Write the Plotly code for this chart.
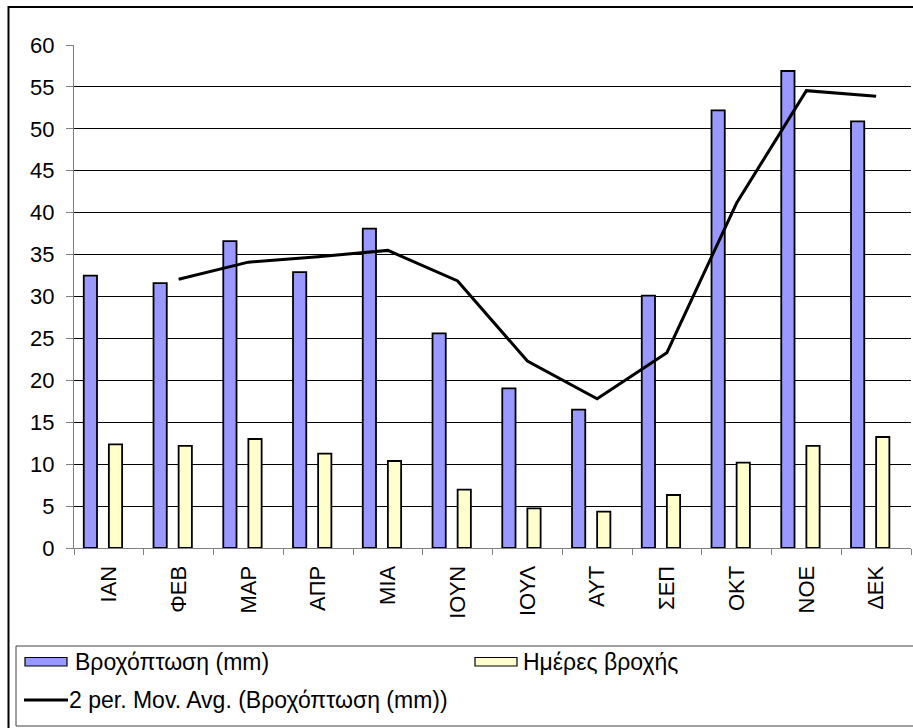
import plotly.graph_objects as go

months = ["ΙΑΝ", "ΦΕΒ", "ΜΑΡ", "ΑΠΡ", "ΜΙΑ", "ΙΟΥΝ", "ΙΟΥΛ", "ΑΥΤ", "ΣΕΠ", "ΟΚΤ", "ΝΟΕ", "ΔΕΚ"]
rain_mm = [32.5, 31.6, 36.6, 32.9, 38.1, 25.6, 19.05, 16.5, 30.1, 52.2, 56.9, 50.9]
rain_days = [12.37, 12.17, 13.0, 11.25, 10.38, 6.96, 4.73, 4.33, 6.32, 10.18, 12.17, 13.24]
mov_avg_months = months[1:]
mov_avg = [32.05, 34.1, 34.75, 35.5, 31.85, 22.3, 17.8, 23.3, 41.15, 54.55, 53.9]
y_ticks = [0, 5, 10, 15, 20, 25, 30, 35, 40, 45, 50, 55, 60]

W, H = 913, 728
L, R, T, B = 74, 2, 45, 180
PW, PH = W - L - R, H - T - B

def px(x):
    return (x - L) / PW

def py(y):
    return (H - B - y) / PH

FONT = "Liberation Sans, Arial, sans-serif"
LEG_SIZE = 23

fig = go.Figure()
fig.add_trace(go.Bar(
    x=months, y=rain_mm, name="Βροχόπτωση (mm)",
    marker=dict(color="#9999FF", line=dict(color="#000000", width=1.8)),
    offset=-0.36, width=0.19, showlegend=False,
))
fig.add_trace(go.Bar(
    x=months, y=rain_days, name="Ημέρες βροχής",
    marker=dict(color="#FFFFCC", line=dict(color="#000000", width=1.8)),
    offset=0.0, width=0.19, showlegend=False,
))
fig.add_trace(go.Scatter(
    x=mov_avg_months, y=mov_avg, mode="lines",
    name="2 per. Mov. Avg. (Βροχόπτωση (mm))",
    line=dict(color="#000000", width=3), showlegend=False,
))

shapes = []
annotations = []
# outer chart border
shapes.append(dict(type="rect", xref="paper", yref="paper",
                   x0=px(8.5), x1=px(940), y0=py(7), y1=py(760),
                   line=dict(color="#000000", width=2), fillcolor="rgba(0,0,0,0)", layer="below"))
# legend box
shapes.append(dict(type="rect", xref="paper", yref="paper",
                   x0=px(16), x1=px(940), y0=py(646), y1=py(726),
                   line=dict(color="#404040", width=1), fillcolor="rgba(0,0,0,0)"))
# legend entries
shapes.append(dict(type="rect", xref="paper", yref="paper",
                   x0=px(25), x1=px(67), y0=py(657.5), y1=py(666),
                   line=dict(color="#000000", width=1.2), fillcolor="#9999FF"))
annotations.append(dict(text="Βροχόπτωση (mm)", xref="paper", yref="paper",
                        x=px(73), y=py(662), xanchor="left", yanchor="middle",
                        showarrow=False, font=dict(family=FONT, size=LEG_SIZE, color="#000")))
shapes.append(dict(type="rect", xref="paper", yref="paper",
                   x0=px(475), x1=px(517), y0=py(657.5), y1=py(666),
                   line=dict(color="#000000", width=1.2), fillcolor="#FFFFCC"))
annotations.append(dict(text="Ημέρες βροχής", xref="paper", yref="paper",
                        x=px(521), y=py(662), xanchor="left", yanchor="middle",
                        showarrow=False, font=dict(family=FONT, size=LEG_SIZE, color="#000")))
shapes.append(dict(type="line", xref="paper", yref="paper",
                   x0=px(24), x1=px(68), y0=py(700), y1=py(700),
                   line=dict(color="#000000", width=3)))
annotations.append(dict(text="2 per. Mov. Avg. (Βροχόπτωση (mm))", xref="paper", yref="paper",
                        x=px(67), y=py(700), xanchor="left", yanchor="middle",
                        showarrow=False, font=dict(family=FONT, size=LEG_SIZE, color="#000")))

fig.update_layout(
    width=W, height=H,
    margin=dict(l=L, r=R, t=T, b=B, pad=0),
    paper_bgcolor="#FFFFFF", plot_bgcolor="#FFFFFF",
    barmode="overlay",
    font=dict(family=FONT, size=21, color="#000000"),
    shapes=shapes, annotations=annotations,
    showlegend=False,
)
fig.update_xaxes(
    type="category", categoryorder="array", categoryarray=months,
    range=[-0.5, 11.5], tickangle=-90,
    tickson="boundaries", ticks="outside", ticklen=6, tickcolor="#808080",
    showline=True, linecolor="#808080", linewidth=1,
    showgrid=False, tickfont=dict(family=FONT, size=22, color="#000"),
    ticklabelstandoff=8,
)
fig.update_yaxes(
    range=[0, 60], tickvals=y_ticks, ticktext=[str(v) for v in y_ticks],
    ticks="outside", ticklen=7, tickcolor="#808080",
    showline=True, linecolor="#808080", linewidth=1,
    showgrid=True, gridcolor="#000000", gridwidth=1,
    zeroline=False, tickfont=dict(family=FONT, size=22, color="#000"),
    ticklabelstandoff=7,
)

fig.write_html(
    "out.html",
    config={"displayModeBar": False},
    post_script="document.body.style.margin='0';document.body.style.padding='0';",
)
